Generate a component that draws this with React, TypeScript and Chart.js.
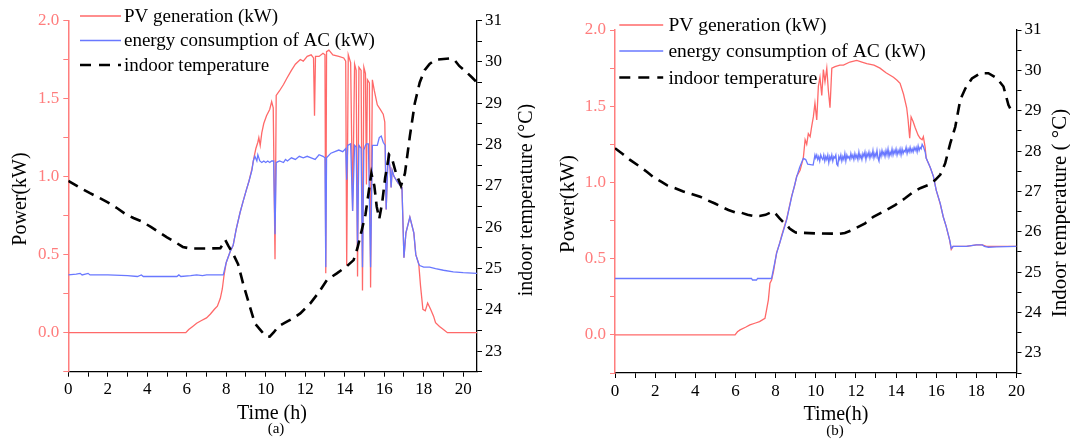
import React, { useEffect, useRef } from 'react';
import { Chart, registerables } from 'chart.js';
Chart.register(...registerables);

// ---------------- Panel (a) data ----------------
const pvA_h = [0, 5.95, 6.1, 6.3, 6.5, 6.7, 7.0, 7.2, 7.4, 7.55, 7.7, 7.8, 7.88, 8.0, 8.2, 8.35, 8.5, 8.7, 8.85, 9.03, 9.15, 9.3, 9.4, 9.5, 9.6, 9.65, 9.72, 9.8, 9.9, 10.04, 10.2, 10.3, 10.38, 10.47, 10.53, 10.7, 10.9, 11.07, 11.3, 11.5, 11.75, 11.9, 12.1, 12.3, 12.42, 12.47, 12.52, 12.7, 12.9, 13.0, 13.04, 13.08, 13.2, 13.4, 13.7, 13.95, 14.05, 14.1, 14.18, 14.3, 14.4, 14.5, 14.58, 14.65, 14.72, 14.83, 14.9, 14.97, 15.05, 15.1, 15.15, 15.25, 15.31, 15.4, 15.5, 15.65, 15.8, 15.95, 16.03, 16.1, 16.2, 16.3, 16.35, 16.4, 16.5, 16.7, 16.9, 17.0, 17.1, 17.3, 17.5, 17.6, 17.75, 17.84, 17.96, 18.08, 18.2, 18.35, 18.5, 18.6, 18.8, 19.0, 19.2, 20.7];
const pvA_kw = [0, 0, 0.02, 0.04, 0.06, 0.075, 0.095, 0.12, 0.15, 0.17, 0.22, 0.28, 0.36, 0.45, 0.52, 0.56, 0.66, 0.77, 0.84, 0.92, 0.97, 1.05, 1.12, 1.18, 1.22, 1.25, 1.2, 1.28, 1.34, 1.39, 1.43, 1.48, 1.44, 0.47, 1.52, 1.55, 1.59, 1.63, 1.68, 1.72, 1.75, 1.74, 1.77, 1.78, 1.76, 1.39, 1.77, 1.77, 1.79, 1.78, 0.38, 1.8, 1.81, 1.78, 1.77, 1.76, 1.74, 0.43, 1.78, 1.73, 0.78, 1.72, 1.68, 0.36, 1.7, 1.68, 0.27, 1.7, 1.66, 0.95, 1.62, 1.6, 0.29, 1.62, 1.55, 1.46, 1.43, 1.4, 1.35, 0.79, 1.15, 1.05, 0.93, 1.04, 1.0, 0.96, 0.93, 0.48, 0.64, 0.74, 0.64, 0.5, 0.44, 0.3, 0.15, 0.14, 0.19, 0.15, 0.106, 0.064, 0.04, 0.02, 0, 0];

const acA_h = [0, 0.4, 0.6, 0.7, 1.0, 1.1, 2.0, 3.0, 3.5, 3.7, 3.8, 4.0, 5.5, 5.6, 5.7, 6.2, 6.5, 6.8, 7.0, 7.3, 7.85, 8.0, 8.2, 8.35, 8.5, 8.7, 8.85, 9.03, 9.15, 9.3, 9.37, 9.45, 9.55, 9.6, 9.7, 9.8, 9.9, 10.0, 10.1, 10.2, 10.3, 10.4, 10.47, 10.53, 10.7, 10.9, 11.0, 11.1, 11.3, 11.5, 11.7, 11.9, 12.1, 12.3, 12.5, 12.7, 12.9, 13.0, 13.04, 13.08, 13.3, 13.5, 13.7, 13.9, 14.05, 14.1, 14.15, 14.3, 14.4, 14.5, 14.58, 14.65, 14.72, 14.83, 14.9, 14.97, 15.05, 15.1, 15.2, 15.31, 15.4, 15.5, 15.65, 15.75, 15.85, 15.95, 16.05, 16.1, 16.2, 16.3, 16.35, 16.4, 16.5, 16.7, 16.9, 17.0, 17.1, 17.3, 17.5, 17.6, 17.75, 17.8, 18.0, 18.3, 18.6, 19.0, 19.5, 20.0, 20.7];
const acA_kw = [0.37, 0.375, 0.38, 0.37, 0.38, 0.37, 0.37, 0.365, 0.36, 0.37, 0.36, 0.36, 0.36, 0.37, 0.36, 0.365, 0.37, 0.365, 0.37, 0.37, 0.37, 0.45, 0.52, 0.56, 0.66, 0.77, 0.84, 0.92, 0.97, 1.04, 1.1, 1.13, 1.1, 1.14, 1.1, 1.09, 1.1, 1.09, 1.1, 1.09, 1.1, 1.1, 0.63, 1.09, 1.1, 1.09, 1.11, 1.1, 1.12, 1.11, 1.13, 1.12, 1.13, 1.12, 1.11, 1.14, 1.13, 1.12, 0.42, 1.12, 1.15, 1.16, 1.17, 1.16, 1.18, 0.98, 1.2, 1.21, 0.78, 1.2, 1.19, 0.55, 1.2, 1.18, 0.42, 1.17, 1.2, 1.21, 1.21, 0.42, 1.2, 1.2, 1.2, 1.25, 1.26, 1.22, 1.2, 0.79, 1.15, 1.05, 0.93, 1.04, 1.0, 0.96, 0.93, 0.48, 0.64, 0.74, 0.64, 0.5, 0.44, 0.43, 0.42, 0.42, 0.41, 0.4, 0.39, 0.385, 0.38];

const tempA_h = [0, 0.6, 1.1, 1.6, 2.0, 2.5, 2.85, 3.3, 3.7, 4.2, 4.55, 5.0, 5.4, 5.8, 6.2, 7.0, 7.7, 7.85, 7.95, 8.1, 8.35, 8.6, 8.85, 9.2, 9.45, 9.8, 10.0, 10.2, 10.4, 10.65, 11.07, 11.4, 11.75, 12.25, 12.7, 13.1, 13.6, 14.1, 14.45, 14.65, 14.85, 15.05, 15.2, 15.35, 15.5, 15.62, 15.75, 15.9, 16.05, 16.25, 16.4, 16.6, 16.85, 17.05, 17.3, 17.55, 17.8, 18.05, 18.3, 18.6, 19.3, 19.55, 19.8, 20.1, 20.45, 20.7];
const tempA_c = [27.12, 26.95, 26.82, 26.7, 26.6, 26.45, 26.33, 26.22, 26.14, 26.0, 25.89, 25.75, 25.64, 25.52, 25.48, 25.48, 25.49, 25.6, 25.69, 25.55, 25.35, 25.1, 24.64, 24.07, 23.67, 23.47, 23.36, 23.35, 23.45, 23.6, 23.71, 23.8, 23.91, 24.15, 24.43, 24.72, 24.88, 25.05, 25.2, 25.5, 25.9, 26.3, 26.8, 27.3, 27.0, 26.5, 26.2, 26.6, 27.2, 27.75, 27.65, 27.3, 27.0, 27.3, 28.2, 29.0, 29.5, 29.8, 29.95, 30.05, 30.08, 30.05, 29.9, 29.78, 29.62, 29.5];

// ---------------- Panel (b) data ----------------
const pvB_h = [0, 5.98, 6.1, 6.23, 6.5, 6.72, 7.0, 7.2, 7.47, 7.55, 7.64, 7.72, 7.8, 7.9, 8.05, 8.2, 8.3, 8.55, 8.8, 8.95, 9.05, 9.22, 9.38, 9.47, 9.55, 9.63, 9.72, 9.8, 9.88, 9.96, 10.05, 10.13, 10.21, 10.3, 10.38, 10.46, 10.55, 10.63, 10.71, 10.8, 10.96, 11.2, 11.38, 11.7, 12.04, 12.3, 12.54, 12.9, 13.2, 13.5, 13.87, 14.05, 14.2, 14.37, 14.53, 14.6, 14.68, 14.75, 14.85, 14.95, 15.1, 15.2, 15.3, 15.36, 15.45, 15.5, 15.7, 15.86, 16.0, 16.2, 16.35, 16.5, 16.67, 16.75, 16.84, 17.5, 18.0, 18.3, 18.5, 20.0];
const pvB_kw = [0, 0, 0.02, 0.033, 0.05, 0.066, 0.078, 0.087, 0.109, 0.164, 0.23, 0.339, 0.36, 0.42, 0.54, 0.6, 0.65, 0.76, 0.91, 0.98, 1.04, 1.08, 1.16, 1.28, 1.25, 1.32, 1.3, 1.37, 1.43, 1.52, 1.41, 1.63, 1.69, 1.57, 1.74, 1.66, 1.75, 1.6, 1.49, 1.75, 1.76, 1.77, 1.77, 1.79, 1.8, 1.79, 1.78, 1.77, 1.75, 1.72, 1.69, 1.67, 1.65, 1.58, 1.49, 1.41, 1.29, 1.43, 1.4, 1.36, 1.31, 1.29, 1.28, 1.3, 1.23, 1.16, 1.1, 1.04, 0.95, 0.86, 0.775, 0.71, 0.62, 0.56, 0.58, 0.58, 0.59, 0.59, 0.58, 0.58];

const acB_h = [0, 6.8, 6.85, 7.05, 7.1, 7.8, 8.05, 8.3, 8.55, 8.8, 9.05, 9.2, 9.38, 9.5, 9.6, 9.87, 9.96,
  10.0, 10.05, 10.1, 10.15, 10.2, 10.25, 10.3, 10.35, 10.4, 10.45, 10.5, 10.55, 10.6, 10.65, 10.7, 10.75, 10.8, 10.85, 10.9, 10.95,
  11.0, 11.05, 11.1, 11.15, 11.2, 11.25, 11.3, 11.35, 11.4, 11.45, 11.5, 11.55, 11.6, 11.65, 11.7, 11.75, 11.8, 11.85, 11.9, 11.95,
  12.0, 12.05, 12.1, 12.15, 12.2, 12.25, 12.3, 12.35, 12.4, 12.45, 12.5, 12.55, 12.6, 12.65, 12.7, 12.75, 12.8, 12.85, 12.9, 12.95,
  13.0, 13.05, 13.1, 13.15, 13.2, 13.25, 13.3, 13.35, 13.4, 13.45, 13.5, 13.55, 13.6, 13.65, 13.7, 13.75, 13.8, 13.85, 13.9, 13.95,
  14.0, 14.05, 14.1, 14.15, 14.2, 14.25, 14.3, 14.35, 14.4, 14.45, 14.5, 14.55, 14.6, 14.65, 14.7, 14.75, 14.8, 14.85, 14.9, 14.95,
  15.0, 15.05, 15.1, 15.15, 15.2, 15.25, 15.3,
  15.36, 15.45, 15.5, 15.7, 15.86, 16.0, 16.2, 16.35, 16.5, 16.67, 16.75, 16.84, 17.5, 18.0, 18.3, 18.4, 18.6, 19.0, 20.0];
const acB_kw = [0.37, 0.37, 0.36, 0.36, 0.37, 0.37, 0.535, 0.644, 0.754, 0.906, 1.037, 1.1, 1.158, 1.15, 1.12, 1.114, 1.18,
  1.16, 1.18, 1.15, 1.17, 1.14, 1.18, 1.16, 1.15, 1.18, 1.14, 1.17, 1.15, 1.18, 1.13, 1.17, 1.15, 1.18, 1.14, 1.17, 1.16,
  1.18, 1.12, 1.11, 1.17, 1.15, 1.18, 1.14, 1.17, 1.15, 1.19, 1.14, 1.18, 1.16, 1.17, 1.15, 1.19, 1.16, 1.18, 1.15, 1.19,
  1.16, 1.18, 1.15, 1.2, 1.16, 1.18, 1.15, 1.19, 1.17, 1.2, 1.15, 1.19, 1.17, 1.2, 1.16, 1.19, 1.17, 1.21, 1.16, 1.19,
  1.17, 1.21, 1.16, 1.14, 1.2, 1.17, 1.21, 1.18, 1.2, 1.17, 1.21, 1.18, 1.22, 1.17, 1.2, 1.18, 1.22, 1.18, 1.21, 1.19,
  1.22, 1.18, 1.21, 1.19, 1.22, 1.18, 1.22, 1.19, 1.21, 1.2, 1.23, 1.19, 1.22, 1.2, 1.23, 1.2, 1.22, 1.2, 1.23, 1.21,
  1.23, 1.2, 1.24, 1.21, 1.23, 1.22, 1.25,
  1.235, 1.2, 1.16, 1.1, 1.04, 0.95, 0.863, 0.775, 0.71, 0.623, 0.568, 0.58, 0.58, 0.59, 0.59, 0.58, 0.575, 0.578, 0.58];

const tempB_h = [0, 0.4, 0.75, 1.25, 1.6, 1.9, 2.3, 2.6, 3.0, 3.4, 3.74, 4.24, 4.6, 4.98, 5.3, 5.65, 6.0, 6.3, 6.6, 6.9, 7.2, 7.5, 7.72, 7.9, 8.05, 8.2, 8.4, 8.55, 8.7, 8.85, 9.0, 10.0, 11.2, 11.45, 11.8, 12.04, 12.46, 12.87, 13.37, 13.95, 14.45, 14.86, 15.2, 15.6, 15.95, 16.2, 16.45, 16.7, 16.95, 17.2, 17.45, 17.78, 18.2, 18.6, 19.03, 19.35, 19.6, 19.8];
const tempB_c = [28.07, 27.92, 27.78, 27.61, 27.48, 27.36, 27.24, 27.15, 27.08, 27.0, 26.95, 26.87, 26.78, 26.7, 26.62, 26.54, 26.48, 26.47, 26.42, 26.39, 26.39, 26.42, 26.47, 26.5, 26.42, 26.33, 26.23, 26.17, 26.08, 26.03, 25.98, 25.96, 25.95, 25.97, 26.04, 26.1, 26.21, 26.37, 26.5, 26.66, 26.83, 26.99, 27.08, 27.16, 27.28, 27.41, 27.7, 28.19, 28.6, 29.27, 29.55, 29.8, 29.93, 29.93, 29.8, 29.6, 29.14, 28.95];

const legendLabels = ['PV generation (kW)', 'energy consumption of AC (kW)', 'indoor temperature'];

const RED = 'rgb(255,105,105)';
const RED_AXIS = 'rgb(255,125,125)';
const BLUE = 'rgb(105,120,255)';
const FONT = '"Liberation Serif", "Times New Roman", serif';

function zip(xs: number[], ys: number[]) {
  return xs.map((x, i) => ({ x, y: ys[i] }));
}

const textPlugin = {
  id: 'panelText',
  afterDraw(chart: any, _args: any, o: any) {
    const ctx = chart.ctx as CanvasRenderingContext2D;
    ctx.save();
    for (const t of o.texts) {
      ctx.save();
      ctx.translate(t.x, t.y);
      ctx.rotate(t.rot || 0);
      ctx.font = `${t.size}px ${FONT}`;
      ctx.fillStyle = t.color || '#000';
      ctx.textAlign = 'center';
      ctx.textBaseline = 'middle';
      ctx.fillText(t.text, 0, 0);
      ctx.restore();
    }
    const lg = o.legend;
    const styles = [
      { color: RED, width: 1.4, dash: [] as number[] },
      { color: BLUE, width: 1.4, dash: [] as number[] },
      { color: '#000', width: 2.6, dash: [11, 8] },
    ];
    lg.rows.forEach((y: number, i: number) => {
      const s = styles[i];
      ctx.beginPath();
      ctx.setLineDash(s.dash);
      ctx.strokeStyle = s.color;
      ctx.lineWidth = s.width;
      ctx.moveTo(lg.x0, y);
      ctx.lineTo(lg.x1, y);
      ctx.stroke();
      ctx.setLineDash([]);
      ctx.font = `${lg.size}px ${FONT}`;
      ctx.fillStyle = '#000';
      ctx.textAlign = 'left';
      ctx.textBaseline = 'middle';
      ctx.fillText(legendLabels[i], lg.tx, y + 1);
    });
    ctx.restore();
  },
};

type Geo = {
  W: number; H: number; left: number; right: number; top: number; bottom: number; xMax: number;
  texts: any[]; legend: any;
};

function makeConfig(pv: any[], ac: any[], temp: any[], g: Geo): any {
  return {
    type: 'line',
    data: {
      datasets: [
        { label: legendLabels[2], data: temp, yAxisID: 'yT', borderColor: '#000', borderWidth: 2.6, borderDash: [11, 7], pointRadius: 0, tension: 0, order: 0 },
        { label: legendLabels[1], data: ac, yAxisID: 'yP', borderColor: BLUE, borderWidth: 1.3, pointRadius: 0, tension: 0, order: 1 },
        { label: legendLabels[0], data: pv, yAxisID: 'yP', borderColor: RED, borderWidth: 1.3, pointRadius: 0, tension: 0, order: 2 },
      ],
    },
    options: {
      animation: false,
      responsive: false,
      parsing: false,
      layout: { padding: { left: 0, right: 0, top: g.top, bottom: 0 } },
      plugins: {
        legend: { display: false },
        tooltip: { enabled: false },
        panelText: { texts: g.texts, legend: g.legend },
      },
      scales: {
        x: {
          type: 'linear',
          min: 0,
          max: g.xMax,
          afterFit: (s: any) => { s.height = g.H - g.bottom; },
          border: { display: true, color: '#000', width: 1.3 },
          grid: { drawOnChartArea: false, drawTicks: true, tickLength: 5, color: '#000', tickColor: '#000' },
          ticks: {
            stepSize: 1,
            includeBounds: false,
            autoSkip: false,
            maxRotation: 0,
            padding: 3,
            color: '#000',
            font: { family: FONT, size: 17 },
            callback: (v: number) => (Math.round(v) % 2 === 0 ? String(Math.round(v)) : ''),
          },
        },
        yP: {
          type: 'linear',
          position: 'left',
          min: -0.25,
          max: 2.0,
          afterFit: (s: any) => { s.width = g.left; },
          border: { display: true, color: RED_AXIS, width: 1.5 },
          grid: { drawOnChartArea: false, drawTicks: true, tickLength: 5, color: RED_AXIS, tickColor: RED_AXIS },
          ticks: {
            stepSize: 0.25,
            autoSkip: false,
            padding: 4,
            color: RED_AXIS,
            font: { family: FONT, size: 17 },
            callback: (v: number) => (Math.abs(v * 2 - Math.round(v * 2)) < 1e-6 && v >= 0 ? v.toFixed(1) : ''),
          },
        },
        yT: {
          type: 'linear',
          position: 'right',
          min: 22.5,
          max: 31,
          afterFit: (s: any) => { s.width = g.W - g.right; },
          border: { display: true, color: '#000', width: 1.3 },
          grid: { drawOnChartArea: false, drawTicks: true, tickLength: 5, color: '#000', tickColor: '#000' },
          ticks: {
            stepSize: 0.5,
            autoSkip: false,
            padding: 3,
            color: '#000',
            font: { family: FONT, size: 17 },
            callback: (v: number) => (Math.abs(v - Math.round(v)) < 1e-6 ? String(Math.round(v)) : ''),
          },
        },
      },
    },
    plugins: [textPlugin],
  };
}

const W = 535;
const H = 439;

const geoA: Geo = {
  W, H, left: 68.3, right: 477, top: 20.5, bottom: 371.7, xMax: 20.7,
  texts: [
    { text: 'Power(kW)', x: 21, y: 199, rot: -Math.PI / 2, size: 20 },
    { text: 'indoor temperature (°C)', x: 527, y: 200, rot: -Math.PI / 2, size: 20 },
    { text: 'Time (h)', x: 272, y: 414, size: 20 },
    { text: '(a)', x: 276, y: 429, size: 15 },
  ],
  legend: { x0: 80, x1: 121, tx: 124, rows: [16, 40.5, 65], size: 19 },
};

const geoB: Geo = {
  W, H, left: 80, right: 481.5, top: 30, bottom: 373, xMax: 20,
  texts: [
    { text: 'Power(kW)', x: 33, y: 204, rot: -Math.PI / 2, size: 21 },
    { text: 'Indoor temperature ( °C)', x: 525, y: 213, rot: -Math.PI / 2, size: 21 },
    { text: 'Time(h)', x: 301, y: 415, size: 20 },
    { text: '(b)', x: 300, y: 431, size: 15 },
  ],
  legend: { x0: 84.3, x1: 128.2, tx: 133.4, rows: [25, 51, 77.5], size: 19.5 },
};

function Panel({ cfg, left }: { cfg: () => any; left: number }) {
  const ref = useRef<HTMLCanvasElement>(null);
  useEffect(() => {
    if (!ref.current) return;
    const chart = new Chart(ref.current, cfg());
    return () => chart.destroy();
  }, []);
  return <canvas ref={ref} width={W} height={H} style={{ position: 'absolute', left, top: 0, width: W, height: H }} />;
}

export default function App() {
  useEffect(() => {
    document.body.style.margin = '0';
  }, []);
  return (
    <div style={{ position: 'relative', width: 1070, height: 439, background: '#fff', overflow: 'hidden' }}>
      <Panel left={0} cfg={() => makeConfig(zip(pvA_h, pvA_kw), zip(acA_h, acA_kw), zip(tempA_h, tempA_c), geoA)} />
      <Panel left={535} cfg={() => makeConfig(zip(pvB_h, pvB_kw), zip(acB_h, acB_kw), zip(tempB_h, tempB_c), geoB)} />
    </div>
  );
}
